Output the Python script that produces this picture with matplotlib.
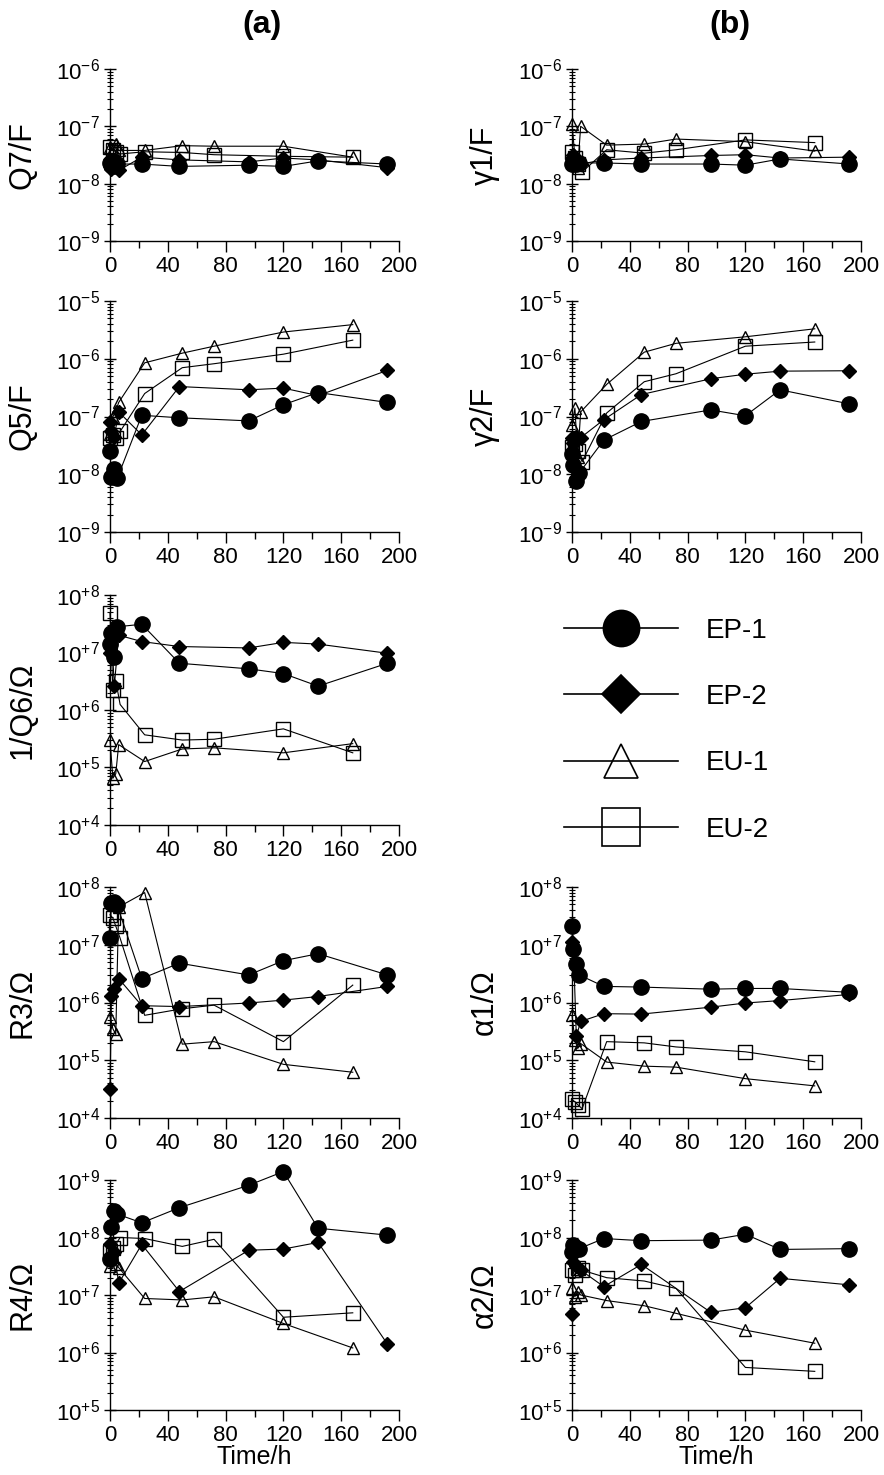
import numpy as np
import matplotlib
matplotlib.use('Agg')
import matplotlib.pyplot as plt
from matplotlib.lines import Line2D
from matplotlib.ticker import FixedLocator, FuncFormatter, MultipleLocator, NullFormatter

plt.rcParams['font.family'] = ['Liberation Sans', 'DejaVu Sans']
plt.rcParams['mathtext.fontset'] = 'custom'
plt.rcParams['mathtext.rm'] = 'Liberation Sans'
plt.rcParams['mathtext.it'] = 'Liberation Sans'
plt.rcParams['mathtext.bf'] = 'Liberation Sans:bold'

# sampling times (h) for each electrode
t_ep1 = [0, 1, 3, 5, 22, 48, 96, 120, 144, 192]
t_ep2 = [0, 1, 3, 6, 22, 48, 96, 120, 144, 192]
t_eu1 = [0, 2, 4, 6, 24, 50, 72, 120, 168]
t_eu2 = [0, 2, 4, 7, 24, 50, 72, 120, 168]

# Q7 / F
q7_ep1 = [2.3e-8, 2.1e-8, 2.0e-8, 2.2e-8, 2.2e-8, 2.0e-8, 2.1e-8, 2.0e-8, 2.5e-8, 2.2e-8]
q7_ep2 = [2.6e-8, 1.8e-8, 2.0e-8, 1.7e-8, 2.9e-8, 2.6e-8, 2.4e-8, 2.8e-8, 2.6e-8, 1.9e-8]
q7_eu1 = [4.4e-8, 4.0e-8, 5.0e-8, 3.8e-8, 3.8e-8, 4.6e-8, 4.5e-8, 4.5e-8, 2.9e-8]
q7_eu2 = [4.3e-8, 3.9e-8, 3.6e-8, 3.3e-8, 3.6e-8, 3.5e-8, 3.2e-8, 3.0e-8, 2.9e-8]

# gamma1 / F
g1_ep1 = [2.2e-8, 2.4e-8, 2.2e-8, 2.3e-8, 2.3e-8, 2.2e-8, 2.2e-8, 2.1e-8, 2.7e-8, 2.2e-8]
g1_ep2 = [2.8e-8, 3.2e-8, 2.5e-8, 2.2e-8, 2.6e-8, 2.8e-8, 3.1e-8, 3.2e-8, 2.8e-8, 2.9e-8]
g1_eu1 = [1.1e-7, 3.0e-8, 1.9e-8, 1.0e-7, 4.7e-8, 4.9e-8, 6.0e-8, 5.4e-8, 3.7e-8]
g1_eu2 = [3.5e-8, 2.8e-8, 2.2e-8, 1.6e-8, 3.9e-8, 3.4e-8, 3.9e-8, 5.8e-8, 5.2e-8]

# Q5 / F
q5_ep1 = [2.5e-8, 9e-9, 1.25e-8, 8.5e-9, 1.05e-7, 9.5e-8, 8.4e-8, 1.6e-7, 2.6e-7, 1.75e-7]
q5_ep2 = [8e-8, 5.5e-8, 4.5e-8, 1.2e-7, 4.8e-8, 3.3e-7, 2.9e-7, 3.1e-7, 2.3e-7, 6.3e-7]
q5_eu1 = [5e-8, 1.0e-7, 1.25e-7, 1.75e-7, 8.5e-7, 1.25e-6, 1.65e-6, 2.9e-6, 3.9e-6]
q5_eu2 = [4.2e-8, 4.8e-8, 4.3e-8, 5.5e-8, 2.5e-7, 7.0e-7, 8.2e-7, 1.2e-6, 2.1e-6]

# gamma2 / F
g2_ep1 = [2.2e-8, 1.45e-8, 7.5e-9, 1.05e-8, 3.9e-8, 8.2e-8, 1.3e-7, 1.03e-7, 2.9e-7, 1.65e-7]
g2_ep2 = [4.2e-8, 3.5e-8, 4.5e-8, 4.3e-8, 8.8e-8, 2.4e-7, 4.5e-7, 5.4e-7, 6.1e-7, 6.2e-7]
g2_eu1 = [7.2e-8, 1.4e-7, 2.0e-8, 1.2e-7, 3.6e-7, 1.3e-6, 1.85e-6, 2.4e-6, 3.3e-6]
g2_eu2 = [3.0e-8, 3.3e-8, 2.5e-8, 1.65e-8, 1.15e-7, 4.0e-7, 5.5e-7, 1.65e-6, 1.95e-6]

# 1/Q6 / Ohm
q6_ep1 = [1.4e7, 2.2e7, 8.5e6, 2.8e7, 3.1e7, 6.5e6, 5.2e6, 4.3e6, 2.6e6, 6.5e6]
q6_ep2 = [1.0e7, 2.2e7, 2.6e6, 2.0e7, 1.55e7, 1.27e7, 1.2e7, 1.5e7, 1.4e7, 9.7e6]
q6_eu1 = [3.0e5, 6.5e4, 7.8e4, 2.5e5, 1.27e5, 2.1e5, 2.2e5, 1.8e5, 2.6e5]
q6_eu2 = [4.8e7, 2.2e6, 3.2e6, 1.25e6, 3.7e5, 3.0e5, 3.1e5, 4.7e5, 1.8e5]

# R3 / Ohm
r3_ep1 = [1.3e7, 5.2e7, 5.6e7, 4.8e7, 2.6e6, 4.8e6, 3.0e6, 5.3e6, 7.0e6, 3.0e6]
r3_ep2 = [3.2e4, 1.3e6, 1.7e6, 2.6e6, 8.8e5, 8.5e5, 9.8e5, 1.1e6, 1.27e6, 1.9e6]
r3_eu1 = [5.7e5, 3.5e5, 2.8e5, 4.5e7, 8.0e7, 1.9e5, 2.1e5, 8.5e4, 6.2e4]
r3_eu2 = [3.3e7, 2.9e7, 2.1e7, 1.3e7, 6.0e5, 7.8e5, 9.0e5, 2.1e5, 2.0e6]

# alpha1 / Ohm
a1_ep1 = [2.15e7, 8.5e6, 4.6e6, 3.0e6, 1.9e6, 1.85e6, 1.7e6, 1.75e6, 1.75e6, 1.5e6]
a1_ep2 = [1.1e7, 8e6, 2.6e5, 4.7e5, 6.4e5, 6.3e5, 8.3e5, 9.8e5, 1.08e6, 1.38e6]
a1_eu1 = [6.0e5, 2.2e5, 1.6e5, 1.95e5, 9.3e4, 7.9e4, 7.6e4, 4.8e4, 3.6e4]
a1_eu2 = [2.1e4, 1.9e4, 1.7e4, 1.45e4, 2.1e5, 2.0e5, 1.7e5, 1.4e5, 9.4e4]

# R4 / Ohm
r4_ep1 = [4.2e7, 1.5e8, 2.9e8, 2.55e8, 1.8e8, 3.3e8, 8.1e8, 1.4e9, 1.45e8, 1.1e8]
r4_ep2 = [7.6e7, 4.8e7, 5.5e7, 1.6e7, 7.6e7, 1.15e7, 6.0e7, 6.3e7, 8.2e7, 1.4e6]
r4_eu1 = [3.2e7, 4.5e7, 3.5e7, 3.0e7, 8.7e6, 8.2e6, 9.3e6, 3.2e6, 1.2e6]
r4_eu2 = [5.5e7, 6.5e7, 7.6e7, 1.0e8, 9.6e7, 7.0e7, 9.3e7, 4.1e6, 4.9e6]

# alpha2 / Ohm
a2_ep1 = [5.6e7, 7.3e7, 6.7e7, 6.4e7, 9.6e7, 8.8e7, 9.0e7, 1.14e8, 6.2e7, 6.4e7]
a2_ep2 = [4.6e6, 3.8e7, 3.2e7, 2.7e7, 1.4e7, 3.4e7, 5.0e6, 6.0e6, 1.95e7, 1.5e7]
a2_eu1 = [1.3e7, 9.4e6, 1.15e7, 1.0e7, 8.0e6, 6.5e6, 4.8e6, 2.45e6, 1.45e6]
a2_eu2 = [2.7e7, 2.2e7, 2.9e7, 2.7e7, 2.0e7, 1.75e7, 1.3e7, 5.5e5, 4.7e5]

names = ['EP-1', 'EP-2', 'EU-1', 'EU-2']
times = [t_ep1, t_ep2, t_eu1, t_eu2]
styles = [dict(marker='o', ms=11, mfc='k', mec='k'),
          dict(marker='D', ms=7, mfc='k', mec='k'),
          dict(marker='^', ms=8, mfc='none', mec='k'),
          dict(marker='s', ms=9.5, mfc='none', mec='k')]

# (row, col, ylabel, (lowest decade, highest decade), series)
panels = [
    (0, 0, 'Q7/F', (-9, -6), [q7_ep1, q7_ep2, q7_eu1, q7_eu2]),
    (0, 1, 'γ1/F', (-9, -6), [g1_ep1, g1_ep2, g1_eu1, g1_eu2]),
    (1, 0, 'Q5/F', (-9, -5), [q5_ep1, q5_ep2, q5_eu1, q5_eu2]),
    (1, 1, 'γ2/F', (-9, -5), [g2_ep1, g2_ep2, g2_eu1, g2_eu2]),
    (2, 0, '1/Q6/Ω', (4, 8), [q6_ep1, q6_ep2, q6_eu1, q6_eu2]),
    (3, 0, 'R3/Ω', (4, 8), [r3_ep1, r3_ep2, r3_eu1, r3_eu2]),
    (3, 1, 'α1/Ω', (4, 8), [a1_ep1, a1_ep2, a1_eu1, a1_eu2]),
    (4, 0, 'R4/Ω', (5, 9), [r4_ep1, r4_ep2, r4_eu1, r4_eu2]),
    (4, 1, 'α2/Ω', (5, 9), [a2_ep1, a2_ep2, a2_eu1, a2_eu2]),
]

W, H = 884, 1475
fig = plt.figure(figsize=(W / 100, H / 100), dpi=100)

row_px = [(69, 241), (301, 532), (595, 825), (887, 1118), (1180, 1410)]
col_px = [110, 572]
ax_w = 289

def exp_label(v, pos):
    return r'$\mathregular{10^{%+d}}$' % int(round(np.log10(v)))

for row, col, ylab, (e0, e1), series in panels:
    top, bot = row_px[row]
    ax = fig.add_axes([col_px[col] / W, 1 - bot / H, ax_w / W, (bot - top) / H])
    # open markers first so the filled ones sit on top
    for k in [3, 2, 1, 0]:
        ax.plot(times[k], series[k], color='k', lw=0.8, mew=1.0,
                clip_on=False, zorder=3 + (3 - k), **styles[k])
    ax.set_yscale('log')
    ax.set_xlim(0, 200)
    ax.set_ylim(10.0 ** e0, 10.0 ** e1)
    decades = 10.0 ** np.arange(e0, e1 + 1)
    minors = np.concatenate([d * np.arange(2, 10) for d in decades[:-1]])
    ax.xaxis.set_major_locator(MultipleLocator(40))
    ax.xaxis.set_minor_locator(MultipleLocator(20))
    ax.yaxis.set_major_locator(FixedLocator(decades))
    ax.yaxis.set_minor_locator(FixedLocator(minors))
    ax.yaxis.set_major_formatter(FuncFormatter(exp_label))
    ax.yaxis.set_minor_formatter(NullFormatter())
    for s in ['top', 'right']:
        ax.spines[s].set_visible(False)
    for s in ['left', 'bottom']:
        ax.spines[s].set_linewidth(1.0)
    ax.tick_params(axis='x', which='major', direction='out', length=8, width=1, labelsize=16, pad=3)
    ax.tick_params(axis='x', which='minor', direction='out', length=5, width=1)
    ax.tick_params(axis='y', which='major', direction='inout', length=8, width=1, labelsize=16, pad=3)
    ax.tick_params(axis='y', which='minor', direction='inout', length=4, width=0.8)
    ax.set_ylabel(ylab, fontsize=22)
    ax.yaxis.set_label_coords(-0.25, 0.5)
    if row == 4:
        ax.set_xlabel('Time/h', fontsize=18, labelpad=-1)

fig.text(262 / W, 1 - 25 / H, '(a)', fontsize=23, fontweight='bold', ha='center', va='center')
fig.text(730 / W, 1 - 25 / H, '(b)', fontsize=23, fontweight='bold', ha='center', va='center')

# legend in the empty slot of column (b)
leg_sizes = [26, 19, 24, 27]
handles = [Line2D([], [], color='k', lw=1.2, mew=1.2,
                  **{**styles[k], 'ms': leg_sizes[k]}) for k in range(4)]
fig.legend(handles, names, loc='center', bbox_to_anchor=(0.754, 0.505),
           frameon=False, fontsize=20, handlelength=4.1, handletextpad=1.0,
           labelspacing=1.45, borderpad=0)

fig.savefig('out.png', dpi=100)
